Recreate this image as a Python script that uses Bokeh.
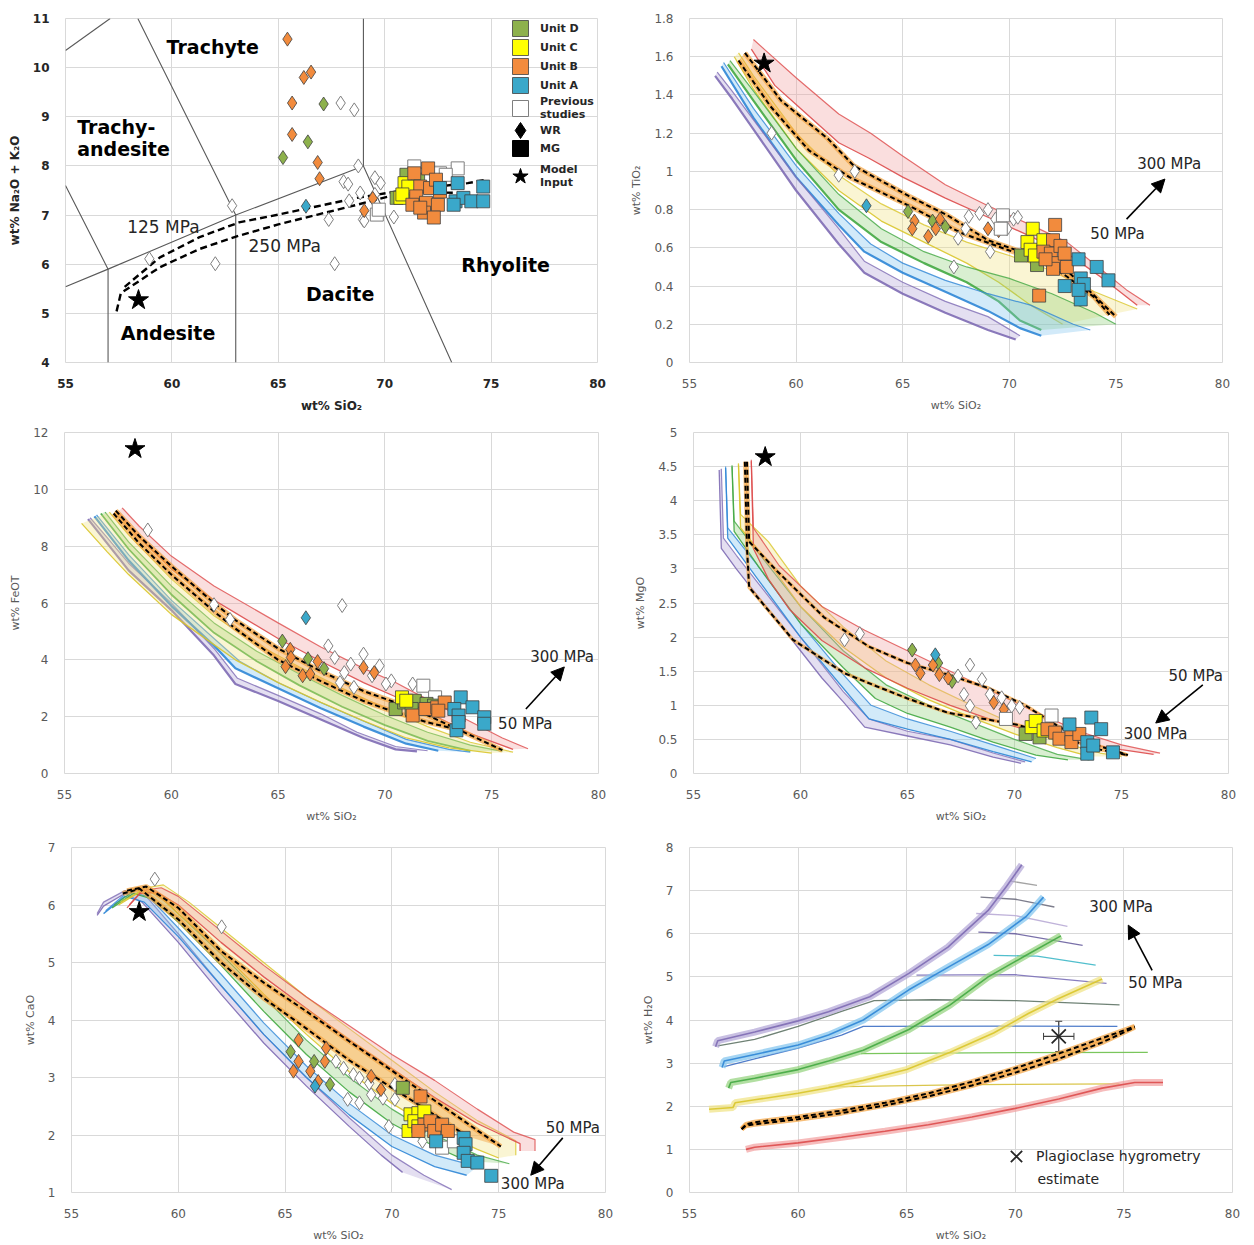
from bokeh.plotting import figure
from bokeh.layouts import column, row
from bokeh.models import (ColumnDataSource, Label, Arrow, NormalHead, Legend, LegendItem,
                          FixedTicker, CustomJSTickFormatter, Range1d, Whisker, TeeHead)
from bokeh.embed import file_html
from bokeh.resources import INLINE

FONT = "DejaVu Sans"
NAN = float("nan")

# ---------------------------------------------------------------- sample data
# Panel 1: TAS (SiO2 vs Na2O+K2O)
TAS_WR_P = [(67.93, 9.28), (68.57, 9.14), (68.76, 8.0), (62.83, 7.19), (58.94, 6.11), (62.04, 6.01),
            (67.65, 6.01), (67.37, 6.91), (68.98, 6.91), (68.07, 7.68), (68.28, 7.63), (68.85, 7.45),
            (69.54, 7.76), (69.81, 7.65), (70.43, 6.96), (68.33, 7.29), (69.54, 7.42), (69.04, 6.88)]
TAS_WR_D = [(67.13, 9.26), (66.39, 8.49), (65.22, 8.17)]
TAS_WR_B = [(65.43, 10.58), (66.2, 9.8), (66.54, 9.91), (65.65, 9.28), (65.65, 8.64), (66.85, 8.07),
            (66.94, 7.74), (69.44, 7.34), (69.04, 7.09)]
TAS_WR_A = [(66.3, 7.18)]
TAS_MG_P = [(71.39, 7.99), (73.43, 7.95), (72.6, 7.85), (72.87, 7.82), (69.63, 7.01), (69.72, 7.11), (71.48, 7.82)]
TAS_MG_D = [(70.56, 7.35), (71.02, 7.82), (71.57, 7.72), (71.39, 7.28)]
TAS_MG_C = [(70.74, 7.35), (70.93, 7.65), (71.11, 7.58), (70.83, 7.42)]
TAS_MG_B = [(71.39, 7.85), (72.04, 7.95), (71.67, 7.58), (72.13, 7.55), (71.48, 7.38), (71.94, 7.25),
            (71.3, 7.21), (72.5, 7.21), (71.85, 7.05), (72.31, 6.95), (72.41, 7.72), (72.6, 7.48), (71.67, 7.15)]
TAS_MG_A = [(72.6, 7.55), (73.43, 7.65), (74.63, 7.58), (73.33, 7.28), (73.7, 7.35), (74.07, 7.28),
            (74.63, 7.28), (73.24, 7.21)]
TAS_STAR = [(58.43, 5.27)]
TAS_MODEL_125 = [(57.78, 5.54), (59.44, 6.14), (61.3, 6.55), (63.15, 6.85), (65.0, 7.01), (66.85, 7.18),
                 (68.7, 7.35), (70.56, 7.48), (72.5, 7.58), (73.9, 7.65), (74.8, 7.72)]
TAS_MODEL_250 = [(57.4, 5.04), (57.6, 5.41), (59.44, 5.94), (61.3, 6.31), (63.15, 6.58), (65.0, 6.81),
                 (66.85, 7.01), (68.7, 7.21), (70.2, 7.38), (72.0, 7.47), (73.4, 7.45)]
TAS_FIELD_LINES = [
    [(55.0, 5.54), (57.0, 5.9), (63.0, 7.0), (69.0, 8.0), (73.15, 4.0)],
    [(57.0, 4.0), (57.0, 5.9), (55.0, 7.6)],
    [(63.0, 4.0), (63.0, 7.0), (58.4, 11.0)],
    [(69.0, 8.0), (69.0, 11.0)],
    [(55.0, 10.35), (57.1, 11.0)],
]

# Panel 2: TiO2
TIO2_WR_P = [(58.85, 1.2), (62.0, 0.98), (62.75, 1.0), (67.4, 0.5), (67.6, 0.65), (67.95, 0.7), (68.1, 0.765),
             (68.6, 0.78), (69.0, 0.8), (69.1, 0.58), (69.35, 0.75), (69.7, 0.73), (69.9, 0.7), (70.2, 0.75), (70.4, 0.76)]
TIO2_WR_D = [(65.25, 0.79), (66.4, 0.74), (67.0, 0.71)]
TIO2_WR_B = [(65.55, 0.74), (65.45, 0.7), (66.2, 0.66), (66.75, 0.75), (66.55, 0.7), (69.0, 0.7), (69.5, 0.69)]
TIO2_WR_A = [(63.3, 0.82)]
TIO2_MG_P = [(69.7, 0.77), (69.6, 0.7)]
TIO2_MG_D = [(70.55, 0.56), (71.3, 0.51)]
TIO2_MG_C = [(71.1, 0.7), (70.85, 0.63), (71.0, 0.59), (71.2, 0.56), (71.6, 0.64)]
TIO2_MG_B = [(72.15, 0.72), (72.05, 0.64), (71.6, 0.58), (71.95, 0.57), (72.4, 0.61), (72.15, 0.52), (72.7, 0.5),
             (72.05, 0.49), (71.4, 0.35), (72.6, 0.57), (71.7, 0.54)]
TIO2_MG_A = [(73.25, 0.54), (72.6, 0.4), (73.35, 0.44), (73.5, 0.41), (74.1, 0.5), (74.65, 0.43), (73.35, 0.33), (73.25, 0.38)]
TIO2_STAR = [(58.5, 1.565)]
TIO2_PURPLE_HI = [(56.3, 1.52), (57, 1.42), (58, 1.27), (60, 0.97), (62, 0.7), (63.2, 0.53), (65, 0.42), (67, 0.32), (69, 0.24), (70.5, 0.14)]
TIO2_PURPLE_LO = [(56.2, 1.5), (57, 1.38), (58, 1.22), (60, 0.9), (62, 0.62), (63.2, 0.47), (65, 0.36), (67, 0.26), (69, 0.17), (70.3, 0.12)]
TIO2_BLUE_HI = [(56.6, 1.57), (58, 1.33), (60, 1.03), (62, 0.78), (63.5, 0.62), (65, 0.52), (67, 0.43), (69, 0.36), (71, 0.3), (73, 0.2), (73.8, 0.17)]
TIO2_BLUE_LO = [(56.5, 1.55), (58, 1.28), (60, 0.97), (62, 0.72), (63.2, 0.58), (65, 0.47), (67, 0.37), (69, 0.27), (70.5, 0.18), (71.5, 0.14)]
TIO2_GREEN_HI = [(56.9, 1.58), (58, 1.42), (60, 1.12), (62, 0.88), (64, 0.7), (66, 0.58), (68, 0.5), (70, 0.44), (72, 0.36), (74, 0.26), (75, 0.2)]
TIO2_GREEN_LO = [(56.8, 1.56), (58, 1.37), (60, 1.06), (62, 0.8), (64, 0.63), (66, 0.52), (68, 0.42), (69.5, 0.32), (70.5, 0.22), (71.5, 0.17)]
TIO2_YELLOW_HI = [(57.3, 1.62), (58, 1.5), (60, 1.2), (62, 0.98), (64, 0.83), (66, 0.72), (68, 0.63), (70, 0.56), (72, 0.48), (74, 0.37), (76, 0.28)]
TIO2_YELLOW_LO = [(57.1, 1.6), (58, 1.43), (60, 1.12), (62, 0.9), (64, 0.74), (66, 0.63), (68, 0.52), (69.5, 0.42), (71, 0.3), (72.5, 0.2)]
TIO2_ORANGE_A = [(57.6, 1.62), (59.3, 1.37), (61.5, 1.17), (62.7, 1.03), (65.3, 0.87), (67.1, 0.77), (69, 0.64), (70.8, 0.57), (72.5, 0.5), (73.8, 0.37), (75.0, 0.24)]
TIO2_ORANGE_B = [(57.3, 1.58), (58.8, 1.34), (60.6, 1.11), (62.5, 0.97), (65.3, 0.82), (67.7, 0.68), (69.9, 0.59), (71.5, 0.53), (72.7, 0.45), (74.0, 0.34), (74.7, 0.25)]
TIO2_RED_HI = [(58.0, 1.69), (58.5, 1.64), (60, 1.49), (62, 1.3), (63.5, 1.2), (65, 1.08), (67, 0.93), (69, 0.82), (71, 0.72), (72.7, 0.63), (74.5, 0.47), (75.5, 0.38), (76.6, 0.3)]
TIO2_RED_LO = [(57.9, 1.64), (59, 1.45), (60, 1.35), (62, 1.15), (63.4, 1.07), (65, 0.97), (67, 0.86), (69, 0.76), (71, 0.66), (73, 0.55), (74.5, 0.43), (76, 0.3)]

# Panel 3: FeOT
FEO_WR_P = [(58.9, 8.57), (62.0, 5.94), (62.75, 5.42), (68.0, 5.91), (67.35, 4.49), (67.65, 4.08), (68.4, 3.85),
            (68.1, 3.55), (69.0, 4.2), (69.75, 3.79), (68.55, 3.03), (67.9, 3.2), (70.3, 3.26), (70.05, 3.15),
            (71.3, 3.15), (69.4, 3.44)]
FEO_WR_D = [(65.2, 4.66), (66.4, 4.04), (67.15, 3.69)]
FEO_WR_B = [(65.57, 4.37), (65.6, 4.08), (65.35, 3.76), (66.15, 3.44), (66.5, 3.5), (66.85, 3.94), (69.0, 3.73), (69.5, 3.55)]
FEO_WR_A = [(66.3, 5.48)]
FEO_MG_P = [(71.8, 3.09), (72.35, 2.68)]
FEO_MG_D = [(70.5, 2.27), (70.9, 2.5), (71.4, 2.56), (71.95, 2.45), (72.3, 2.39), (71.25, 2.27)]
FEO_MG_C = [(70.8, 2.68), (71.0, 2.56)]
FEO_MG_B = [(71.3, 2.04), (71.9, 2.27), (72.45, 2.33), (72.8, 2.5), (72.5, 2.21)]
FEO_MG_A = [(73.55, 2.68), (74.1, 2.33), (73.25, 2.27), (73.45, 2.04), (73.35, 1.52), (74.65, 1.98), (74.65, 1.75), (73.45, 1.81)]
FEO_STAR = [(58.3, 11.42)]
FEO_PURPLE_HI = [(56.2, 9.0), (57, 8.3), (58, 7.4), (60, 6.0), (62, 4.4), (63.1, 3.35), (65, 2.75), (67, 2.1), (68.7, 1.45), (70.5, 0.95), (72, 0.8)]
FEO_PURPLE_LO = [(56.1, 8.95), (57, 8.1), (58, 7.15), (60, 5.75), (62, 4.15), (63, 3.15), (65, 2.55), (67, 1.9), (69, 1.25), (70.5, 0.85), (71.5, 0.78)]
FEO_BLUE_HI = [(56.5, 9.1), (58, 7.7), (60, 6.1), (62, 4.75), (63.2, 3.95), (65, 3.2), (67, 2.5), (69, 1.85), (71, 1.2), (73, 0.85), (74, 0.75)]
FEO_BLUE_LO = [(56.4, 9.05), (58, 7.5), (60, 5.9), (62, 4.5), (63, 3.7), (65, 3.0), (67, 2.3), (69, 1.65), (71, 1.05), (72.5, 0.8)]
FEO_GREEN_HI = [(56.9, 9.2), (58, 8.15), (60, 6.6), (62, 5.3), (64, 4.3), (66, 3.5), (68, 2.75), (70, 2.05), (72, 1.45), (74, 1.0), (75.5, 0.78)]
FEO_GREEN_LO = [(56.7, 9.15), (58, 7.9), (60, 6.3), (62, 4.95), (64, 3.95), (66, 3.1), (68, 2.35), (70, 1.7), (72, 1.15), (74, 0.8)]
FEO_YELLOW_HI = [(57.1, 9.2), (58, 8.4), (60, 6.85), (62, 5.55), (64, 4.55), (66, 3.75), (68, 3.0), (70, 2.3), (72, 1.65), (74, 1.1), (76, 0.75)]
FEO_YELLOW_LO = [(55.8, 8.8), (57, 7.8), (58, 7.0), (60, 5.6), (61.5, 4.8), (63, 4.0), (65, 3.2), (67, 2.5), (69, 1.85), (71, 1.25), (73, 0.9), (75, 0.72)]
FEO_ORANGE_A = [(57.4, 9.25), (58.5, 8.35), (60, 7.3), (62, 6.0), (63, 5.4), (65, 4.4), (67, 3.6), (69, 2.9), (70.5, 2.5), (72, 2.05), (74, 1.35), (75.5, 0.82)]
FEO_ORANGE_B = [(57.3, 9.15), (58.5, 8.1), (60, 7.0), (62, 5.7), (63, 5.1), (65, 4.0), (67, 3.25), (69, 2.55), (70.5, 2.15), (72, 1.8), (73.1, 1.6)]
FEO_RED_HI = [(57.7, 9.35), (58.5, 8.7), (60, 7.65), (62, 6.6), (65, 5.3), (67, 4.45), (69, 3.7), (70.5, 3.2), (72, 2.6), (74.2, 1.75), (75.5, 1.25), (76.7, 0.87)]
FEO_RED_LO = [(57.5, 9.2), (58.5, 8.3), (60, 7.2), (62, 6.1), (65, 4.75), (67, 3.95), (69, 3.2), (70.5, 2.7), (72, 2.15), (74, 1.4), (76, 0.85)]

# Panel 4: MgO
MGO_WR_P = [(62.06, 1.96), (62.77, 2.05), (67.36, 1.43), (67.92, 1.59), (68.48, 1.38), (67.64, 1.16), (67.92, 0.99),
            (68.85, 1.16), (69.4, 1.11), (69.87, 0.99), (70.24, 0.97), (68.2, 0.75)]
MGO_WR_D = [(65.22, 1.81), (66.43, 1.62), (67.08, 1.35)]
MGO_WR_B = [(65.37, 1.59), (65.6, 1.47), (66.19, 1.59), (66.49, 1.45), (66.9, 1.4), (69.03, 1.04), (69.5, 0.94)]
MGO_WR_A = [(66.3, 1.74)]
MGO_MG_P = [(71.73, 0.85), (69.6, 0.8)]
MGO_MG_D = [(70.52, 0.58), (71.17, 0.53)]
MGO_MG_C = [(70.8, 0.68), (70.99, 0.77), (71.36, 0.63)]
MGO_MG_B = [(71.54, 0.65), (71.9, 0.6), (72.1, 0.51), (72.66, 0.56), (72.66, 0.46), (73.03, 0.58)]
MGO_MG_A = [(72.57, 0.72), (73.59, 0.82), (74.05, 0.65), (73.4, 0.46), (73.4, 0.29), (73.68, 0.41), (74.6, 0.31)]
MGO_STAR = [(58.35, 4.64)]
MGO_PURPLE_HI = [(56.3, 4.47), (56.4, 3.45), (57, 3.2), (58, 2.8), (59, 2.4), (60, 2.0), (61, 1.6), (62, 1.2), (63.2, 0.8), (65, 0.62), (67, 0.5), (69, 0.3), (70.5, 0.17)]
MGO_PURPLE_LO = [(56.2, 4.45), (56.3, 3.3), (57, 3.0), (58, 2.6), (59, 2.2), (60, 1.8), (61, 1.4), (62, 1.05), (63, 0.68), (65, 0.55), (67, 0.42), (69, 0.24), (70.3, 0.15)]
MGO_BLUE_HI = [(56.5, 4.5), (56.6, 3.6), (58, 3.05), (60, 2.2), (62, 1.45), (63.3, 1.0), (65, 0.8), (67, 0.62), (69, 0.42), (71, 0.22)]
MGO_BLUE_LO = [(56.5, 4.48), (56.6, 3.45), (58, 2.85), (60, 2.0), (62, 1.25), (63.2, 0.8), (65, 0.65), (67, 0.5), (69, 0.32), (70.8, 0.17)]
MGO_GREEN_HI = [(56.8, 4.52), (56.9, 3.7), (58, 3.25), (60, 2.45), (62, 1.8), (64, 1.3), (66, 1.0), (68, 0.75), (70, 0.5), (72, 0.28), (73.5, 0.2)]
MGO_GREEN_LO = [(56.8, 4.5), (56.9, 3.55), (58, 3.05), (60, 2.2), (62, 1.55), (63.5, 1.1), (65, 0.88), (67, 0.68), (69, 0.46), (71, 0.27), (72.5, 0.2)]
MGO_YELLOW_HI = [(57.1, 4.55), (57.2, 3.8), (58.5, 3.4), (60, 2.75), (62, 2.15), (64, 1.65), (66, 1.3), (68, 1.0), (70, 0.72), (72, 0.47), (74, 0.3), (75, 0.25)]
MGO_YELLOW_LO = [(57.1, 4.53), (57.2, 3.6), (58.5, 3.1), (60, 2.45), (62, 1.85), (64, 1.4), (66, 1.08), (68, 0.82), (70, 0.58), (72, 0.38), (73.5, 0.25)]
MGO_ORANGE_A = [(57.5, 4.57), (57.6, 3.4), (58.9, 2.97), (61.1, 2.29), (63.2, 1.86), (65, 1.62), (66.9, 1.45), (68.8, 1.25), (70.5, 1.0), (72, 0.7), (73.5, 0.45), (75.3, 0.27)]
MGO_ORANGE_B = [(57.4, 4.57), (57.5, 3.3), (57.6, 2.73), (59.65, 1.96), (62.06, 1.47), (63.55, 1.28), (65, 1.1), (66.9, 0.89), (70.06, 0.72), (72.5, 0.5), (74, 0.35), (75.26, 0.27)]
MGO_RED_HI = [(57.7, 4.6), (57.8, 3.6), (59, 3.05), (61, 2.45), (63, 2.1), (65, 1.8), (67, 1.5), (69, 1.2), (71, 0.9), (73, 0.62), (75, 0.42), (76.8, 0.3)]
MGO_RED_LO = [(57.7, 4.58), (57.8, 3.3), (58.5, 2.85), (59.5, 2.4), (61, 1.95), (63, 1.55), (65, 1.25), (67, 1.0), (69, 0.78), (71, 0.6), (73, 0.45), (75, 0.35), (76.5, 0.28)]

# Panel 5: CaO
CAO_WR_P = [(58.9, 6.45), (62.03, 5.62), (67.38, 3.28), (67.74, 3.16), (68.2, 3.05), (68.48, 2.99), (67.93, 2.62),
            (68.48, 2.56), (69.03, 2.7), (69.49, 2.79), (69.58, 2.64), (70.14, 2.62), (70.14, 2.88), (69.86, 2.15),
            (71.43, 1.89), (68.94, 2.9)]
CAO_WR_D = [(65.26, 3.45), (66.36, 3.28), (67.1, 2.88)]
CAO_WR_B = [(65.63, 3.65), (65.63, 3.28), (65.39, 3.11), (66.18, 3.11), (66.92, 3.51), (66.86, 3.28), (66.55, 2.93), (69.03, 3.02), (69.49, 2.79)]
CAO_WR_A = [(66.4, 2.85)]
CAO_MG_P = [(72.35, 1.78), (72.9, 1.89)]
CAO_MG_D = [(70.51, 2.82)]
CAO_MG_C = [(70.78, 2.07), (70.87, 2.36), (71.24, 2.38), (71.05, 2.24), (71.52, 2.41), (71.24, 2.15)]
CAO_MG_B = [(71.34, 2.67), (71.52, 2.18), (71.8, 2.24), (71.98, 2.07), (72.35, 2.18), (72.62, 2.07), (71.24, 2.07)]
CAO_MG_A = [(72.07, 1.89), (73.36, 1.95), (73.45, 1.84), (73.36, 1.69), (73.55, 1.55), (74.0, 1.52), (74.65, 1.29)]
CAO_STAR = [(58.17, 5.88)]
CAO_PURPLE_HI = [(56.2, 5.85), (56.5, 6.05), (57.5, 6.25), (58.5, 6.15), (60, 5.5), (62, 4.6), (64, 3.75), (66, 3.0), (68, 2.3), (70, 1.65), (71.5, 1.3), (72.8, 1.05)]
CAO_PURPLE_LO = [(56.2, 5.82), (56.5, 5.98), (57.5, 6.2), (58.3, 6.05), (60, 5.35), (62, 4.45), (64, 3.6), (66, 2.85), (68, 2.15), (69.5, 1.65), (70.5, 1.35)]
CAO_BLUE_HI = [(56.6, 5.9), (57.6, 6.22), (58.6, 6.15), (60, 5.6), (62, 4.8), (64, 3.95), (66, 3.2), (68, 2.55), (70, 2.0), (72, 1.65), (74, 1.45)]
CAO_BLUE_LO = [(56.5, 5.85), (57.5, 6.15), (58.4, 6.05), (60, 5.45), (62, 4.6), (64, 3.75), (66, 3.0), (68, 2.35), (70, 1.8), (72, 1.45), (73.5, 1.3)]
CAO_GREEN_HI = [(57.0, 6.0), (58, 6.27), (59, 6.2), (60, 5.85), (62, 5.15), (64, 4.4), (66, 3.65), (68, 3.0), (70, 2.45), (72, 2.0), (74, 1.65), (75.5, 1.5)]
CAO_GREEN_LO = [(56.9, 5.95), (57.9, 6.2), (58.8, 6.1), (60, 5.7), (62, 4.95), (64, 4.15), (66, 3.4), (68, 2.75), (70, 2.2), (72, 1.8), (73.5, 1.55)]
CAO_YELLOW_HI = [(57.3, 6.05), (58.5, 6.3), (59.3, 6.35), (60.5, 6.05), (62, 5.6), (64, 5.0), (66, 4.4), (68, 3.85), (70, 3.3), (72, 2.75), (74, 2.25), (75.8, 1.9), (75.8, 1.65)]
CAO_YELLOW_LO = [(57.2, 6.0), (58.3, 6.25), (59, 6.2), (60, 5.85), (62, 5.2), (64, 4.45), (66, 3.75), (68, 3.1), (70, 2.55), (72, 2.1), (74, 1.75), (75, 1.6)]
CAO_ORANGE_A = [(57.6, 6.25), (58.5, 6.32), (60, 5.95), (62, 5.2), (64, 4.65), (66, 4.15), (68, 3.63), (70, 3.12), (72, 2.6), (74, 2.08), (75.1, 1.8)]
CAO_ORANGE_B = [(57.4, 6.2), (58.2, 6.28), (60, 5.75), (62, 5.0), (64, 4.38), (66, 3.85), (68, 3.3), (70, 2.82), (72, 2.35), (73.5, 1.98)]
CAO_RED_HI = [(57.7, 6.0), (58.3, 6.25), (59.2, 6.3), (60, 6.15), (62, 5.55), (64, 4.95), (66, 4.4), (68, 3.9), (70, 3.4), (72, 2.95), (74, 2.45), (75.7, 2.05), (76.7, 1.92), (76.7, 1.72)]
CAO_RED_LO = [(57.6, 5.95), (58.2, 6.2), (59, 6.22), (60, 6.0), (62, 5.35), (64, 4.75), (66, 4.2), (68, 3.65), (70, 3.15), (72, 2.65), (74, 2.2), (76, 1.85), (76, 1.72)]

# Panel 6: H2O
H2O_PURPLE = [(56.2, 3.38), (56.3, 3.52), (58, 3.72), (60, 3.98), (61.4, 4.19), (63.3, 4.54), (65.1, 5.08), (66.9, 5.69), (68.75, 6.54), (69.6, 7.1), (70.3, 7.6)]
H2O_BLUE = [(56.5, 2.9), (56.6, 3.05), (58, 3.2), (60, 3.42), (61.4, 3.65), (63, 4.0), (65.1, 4.7), (67, 5.25), (68.75, 5.75), (70.5, 6.4), (71.3, 6.85)]
H2O_GREEN = [(56.8, 2.42), (56.9, 2.55), (58, 2.65), (60, 2.85), (61.4, 3.05), (63, 3.3), (65.1, 3.78), (67, 4.35), (68.75, 5.0), (70.5, 5.5), (72.1, 5.95)]
H2O_YELLOW = [(55.9, 1.93), (57.0, 1.97), (57.1, 2.08), (58, 2.15), (60, 2.3), (61.4, 2.43), (63, 2.6), (65, 2.85), (67, 3.25), (69, 3.7), (70.6, 4.15), (72, 4.5), (74, 4.95)]
H2O_ORANGE_A = [(57.4, 1.47), (57.6, 1.58), (58, 1.63), (60, 1.75), (62, 1.9), (64, 2.08), (66, 2.3), (68, 2.57), (70, 2.88), (72, 3.22), (74, 3.58), (75.5, 3.85)]
H2O_ORANGE_B = [(57.4, 1.47), (57.6, 1.55), (58, 1.58), (60, 1.7), (62, 1.84), (64, 2.02), (66, 2.23), (68, 2.48), (70, 2.78), (72, 3.1), (74, 3.48), (75.5, 3.83)]
H2O_RED = [(57.6, 1.0), (58, 1.05), (60, 1.15), (62, 1.28), (64, 1.42), (66, 1.57), (68, 1.75), (70, 1.95), (72, 2.17), (74, 2.42), (75.5, 2.55), (76.8, 2.55)]
H2O_PLATEAUS = [
    ([(69.8, 7.22), (71.0, 7.12)], "#9a9a9a"),
    ([(68.4, 6.85), (70.0, 6.8), (71.8, 6.62)], "#6f6f80"),
    ([(68.2, 6.47), (70.0, 6.42), (72.4, 6.17)], "#b9abd6"),
    ([(68.3, 6.04), (70.0, 6.0), (73.1, 5.73)], "#6a60a0"),
    ([(69.0, 5.5), (71.0, 5.48), (73.7, 5.27)], "#3fb8c8"),
    ([(65.45, 5.04), (70.0, 5.05), (74.2, 4.85)], "#7b70b8"),
    ([(56.3, 3.4), (58, 3.55), (60, 3.85), (62, 4.2), (63.5, 4.45), (66.2, 4.47), (70, 4.45), (74.8, 4.35)], "#5f7466"),
    ([(56.6, 2.92), (58, 3.1), (60, 3.35), (62, 3.65), (63.0, 3.85), (70, 3.86), (74.7, 3.85)], "#3d6fc4"),
    ([(62.9, 3.22), (68.0, 3.24), (76.1, 3.25)], "#6cc04a"),
    ([(61.4, 2.45), (68.0, 2.5), (74.8, 2.52)], "#d6c03a"),
]
HYG_X = [72.0]
HYG_Y = [3.62]
HYG_XERR = [0.7]
HYG_YERR = [0.35]

# ---------------------------------------------------------------- styles
UNIT_FILL = {"P": "#ffffff", "D": "#8db14c", "C": "#ffff00", "B": "#f28b3d", "A": "#3aa8ca"}
PSTYLE = {"purple": ("#7e6cb4", "#b1a4d6"), "blue": ("#2f86d6", "#7fc3ee"),
          "green": ("#43a843", "#92d27a"), "yellow": ("#d9c52b", "#f0e381"),
          "red": ("#dd4b4b", "#f2a0a0")}
ORANGE = "#f3a23e"


def xs_of(pts):
    return [a for a, _ in pts]


def ys_of(pts):
    return [b for _, b in pts]


def make_fig(yr, yticks, ylabel, borders, bold=False):
    l, r, t, b = borders
    p = figure(width=627, height=415, x_range=Range1d(55, 80), y_range=Range1d(*yr),
               output_backend="svg", toolbar_location=None,
               min_border_left=l, min_border_right=r, min_border_top=t, min_border_bottom=b)
    p.xaxis.ticker = FixedTicker(ticks=[55, 60, 65, 70, 75, 80])
    p.yaxis.ticker = FixedTicker(ticks=yticks)
    p.yaxis.formatter = CustomJSTickFormatter(code="return String(Math.round(tick*10)/10);")
    p.xaxis.axis_label = "wt% SiO\u2082"
    p.yaxis.axis_label = ylabel
    for ax in (p.xaxis[0], p.yaxis[0]):
        ax.axis_line_color = None
        ax.major_tick_line_color = None
        ax.minor_tick_line_color = None
        ax.major_label_text_font = FONT
        ax.major_label_text_font_size = "12px"
        ax.major_label_text_color = "#262626" if bold else "#595959"
        ax.major_label_text_font_style = "bold" if bold else "normal"
        ax.axis_label_text_font = FONT
        ax.axis_label_text_font_size = "12px" if bold else "11px"
        ax.axis_label_text_font_style = "bold" if bold else "normal"
        ax.axis_label_text_color = "#262626" if bold else "#595959"
        ax.major_label_standoff = 10
        ax.axis_label_standoff = 8
    p.xgrid.grid_line_color = "#d9d9d9"
    p.ygrid.grid_line_color = "#d9d9d9"
    p.outline_line_color = "#d9d9d9"
    p.background_fill_color = "white"
    p.border_fill_color = "white"
    return p


def band(p, hi, lo, key, lw=1.3):
    edge, fill = PSTYLE[key]
    p.patch(xs_of(hi) + xs_of(lo)[::-1], ys_of(hi) + ys_of(lo)[::-1],
            fill_color=fill, fill_alpha=0.35, line_color=None)
    p.line(xs_of(hi), ys_of(hi), line_color=edge, line_width=1.2, line_alpha=0.8)
    p.line(xs_of(lo), ys_of(lo), line_color=edge, line_width=lw, line_alpha=0.9)


def dashed_band(p, a, b, fill=True, under=5):
    if fill:
        p.patch(xs_of(a) + xs_of(b)[::-1], ys_of(a) + ys_of(b)[::-1],
                fill_color=ORANGE, fill_alpha=0.45, line_color=None)
    for c in (a, b):
        p.line(xs_of(c), ys_of(c), line_color=ORANGE, line_width=under, line_alpha=0.7)
    for c in (a, b):
        p.line(xs_of(c), ys_of(c), line_color="black", line_width=2, line_dash="5 3")


def samples(p, wr, mg, star):
    out = {}
    for u in ["P", "D", "B", "A"]:
        d = wr.get(u)
        if d:
            out[("wr", u)] = p.scatter(xs_of(d), ys_of(d), marker="diamond", size=14,
                                       fill_color=UNIT_FILL[u],
                                       line_color="#7f7f7f" if u == "P" else "#404040",
                                       line_width=1.0 if u == "P" else 0.8)
    for u in ["P", "D", "C", "B", "A"]:
        d = mg.get(u)
        if d:
            out[("mg", u)] = p.scatter(xs_of(d), ys_of(d), marker="square", size=13,
                                       fill_color=UNIT_FILL[u],
                                       line_color="#7f7f7f" if u == "P" else "#404040",
                                       line_width=1.0 if u == "P" else 0.8)
    out["star"] = p.scatter(xs_of(star), ys_of(star), marker="star", size=21,
                            fill_color="black", line_color="black")
    return out


def label(p, x, y, text, size="15px", bold=False, color="#262626"):
    p.add_layout(Label(x=x, y=y, text=text, text_font=FONT, text_font_size=size,
                       text_font_style="bold" if bold else "normal", text_color=color,
                       text_baseline="middle"))


def arrow(p, x0, y0, x1, y1):
    p.add_layout(Arrow(end=NormalHead(size=13, fill_color="black", line_color="black"),
                       x_start=x0, y_start=y0, x_end=x1, y_end=y1,
                       line_color="black", line_width=1.6))


# ---------------------------------------------------------------- panel 1: TAS
p1 = make_fig((4, 11), [4, 5, 6, 7, 8, 9, 10, 11], "wt% Na\u2082O + K\u2082O", (65, 30, 16, 53), bold=True)
for ln in TAS_FIELD_LINES:
    p1.line(xs_of(ln), ys_of(ln), line_color="#595959", line_width=1.1)
for c in (TAS_MODEL_125, TAS_MODEL_250):
    p1.line(xs_of(c), ys_of(c), line_color="black", line_width=2.4, line_dash="7 4")
r1 = samples(p1, {"P": TAS_WR_P, "D": TAS_WR_D, "B": TAS_WR_B, "A": TAS_WR_A},
             {"P": TAS_MG_P, "D": TAS_MG_D, "C": TAS_MG_C, "B": TAS_MG_B, "A": TAS_MG_A}, TAS_STAR)
label(p1, 59.75, 10.43, "Trachyte", "19px", True, "black")
label(p1, 55.55, 8.79, "Trachy-", "19px", True, "black")
label(p1, 55.55, 8.35, "andesite", "19px", True, "black")
label(p1, 66.3, 5.39, "Dacite", "19px", True, "black")
label(p1, 57.6, 4.6, "Andesite", "19px", True, "black")
label(p1, 73.6, 5.98, "Rhyolite", "19px", True, "black")
label(p1, 57.9, 6.75, "125 MPa", "17px", False, "#262626")
label(p1, 63.6, 6.38, "250 MPa", "17px", False, "#262626")
wr_dummy = p1.scatter([NAN], [NAN], marker="diamond", size=12, fill_color="black", line_color="black")
mg_dummy = p1.scatter([NAN], [NAN], marker="square", size=12, fill_color="black", line_color="black")
# legend entries: (label, renderer, row centre in px below the plot frame top)
legend_rows = [
    ("Unit D", r1[("mg", "D")], 12),
    ("Unit C", r1[("mg", "C")], 31),
    ("Unit B", r1[("mg", "B")], 50),
    ("Unit A", r1[("mg", "A")], 69),
    ("Previous\nstudies", r1[("mg", "P")], 92),
    ("WR", wr_dummy, 114),
    ("MG", mg_dummy, 132),
    ("Model\nInput", r1["star"], 160),
]
for text, rend, off in legend_rows:
    p1.add_layout(Legend(items=[LegendItem(label=text, renderers=[rend])],
                         location=(435, 326 - off), glyph_height=40, glyph_width=40,
                         padding=0, margin=0, label_standoff=-4, label_text_font=FONT,
                         label_text_font_size="11px", label_text_font_style="bold",
                         label_text_color="#262626", label_text_line_height=1.0,
                         background_fill_alpha=0, border_line_color=None))

# ---------------------------------------------------------------- panel 2: TiO2
p2 = make_fig((0, 1.8), [0, 0.2, 0.4, 0.6, 0.8, 1.0, 1.2, 1.4, 1.6, 1.8], "wt% TiO\u2082", (62, 32, 18, 51))
band(p2, TIO2_RED_HI, TIO2_RED_LO, "red")
band(p2, TIO2_YELLOW_HI, TIO2_YELLOW_LO, "yellow")
band(p2, TIO2_GREEN_HI, TIO2_GREEN_LO, "green", 2.2)
band(p2, TIO2_BLUE_HI, TIO2_BLUE_LO, "blue", 2.2)
band(p2, TIO2_PURPLE_HI, TIO2_PURPLE_LO, "purple", 2.2)
dashed_band(p2, TIO2_ORANGE_A, TIO2_ORANGE_B)
samples(p2, {"P": TIO2_WR_P, "D": TIO2_WR_D, "B": TIO2_WR_B, "A": TIO2_WR_A},
        {"P": TIO2_MG_P, "D": TIO2_MG_D, "C": TIO2_MG_C, "B": TIO2_MG_B, "A": TIO2_MG_A}, TIO2_STAR)
arrow(p2, 75.5, 0.75, 77.3, 0.96)
label(p2, 76.0, 1.04, "300 MPa")
label(p2, 73.8, 0.67, "50 MPa")

# ---------------------------------------------------------------- panel 3: FeOT
p3 = make_fig((0, 12), [0, 2, 4, 6, 8, 10, 12], "wt% FeOT", (64, 29, 15, 57))
band(p3, FEO_PURPLE_HI, FEO_PURPLE_LO, "purple", 2.2)
band(p3, FEO_BLUE_HI, FEO_BLUE_LO, "blue", 2.2)
band(p3, FEO_GREEN_HI, FEO_GREEN_LO, "green", 1.8)
band(p3, FEO_YELLOW_HI, FEO_YELLOW_LO, "yellow")
band(p3, FEO_RED_HI, FEO_RED_LO, "red")
dashed_band(p3, FEO_ORANGE_A, FEO_ORANGE_B)
samples(p3, {"P": FEO_WR_P, "D": FEO_WR_D, "B": FEO_WR_B, "A": FEO_WR_A},
        {"P": FEO_MG_P, "D": FEO_MG_D, "C": FEO_MG_C, "B": FEO_MG_B, "A": FEO_MG_A}, FEO_STAR)
arrow(p3, 76.6, 2.27, 78.4, 3.75)
label(p3, 76.8, 4.1, "300 MPa")
label(p3, 75.3, 1.75, "50 MPa")

# ---------------------------------------------------------------- panel 4: MgO
p4 = make_fig((0, 5), [0, 0.5, 1, 1.5, 2, 2.5, 3, 3.5, 4, 4.5, 5], "wt% MgO", (66, 26, 17, 54))
band(p4, MGO_PURPLE_HI, MGO_PURPLE_LO, "purple")
band(p4, MGO_BLUE_HI, MGO_BLUE_LO, "blue")
band(p4, MGO_GREEN_HI, MGO_GREEN_LO, "green")
band(p4, MGO_YELLOW_HI, MGO_YELLOW_LO, "yellow")
band(p4, MGO_RED_HI, MGO_RED_LO, "red")
dashed_band(p4, MGO_ORANGE_A, MGO_ORANGE_B, fill=False, under=3.5)
samples(p4, {"P": MGO_WR_P, "D": MGO_WR_D, "B": MGO_WR_B, "A": MGO_WR_A},
        {"P": MGO_MG_P, "D": MGO_MG_D, "C": MGO_MG_C, "B": MGO_MG_B, "A": MGO_MG_A}, MGO_STAR)
arrow(p4, 78.8, 1.3, 76.6, 0.74)
label(p4, 77.2, 1.43, "50 MPa")
label(p4, 75.1, 0.58, "300 MPa")

# ---------------------------------------------------------------- panel 5: CaO
p5 = make_fig((1, 7), [1, 2, 3, 4, 5, 6, 7], "wt% CaO", (71, 22, 15, 53))
band(p5, CAO_PURPLE_HI, CAO_PURPLE_LO, "purple")
band(p5, CAO_BLUE_HI, CAO_BLUE_LO, "blue")
band(p5, CAO_GREEN_HI, CAO_GREEN_LO, "green")
band(p5, CAO_YELLOW_HI, CAO_YELLOW_LO, "yellow")
band(p5, CAO_RED_HI, CAO_RED_LO, "red")
dashed_band(p5, CAO_ORANGE_A, CAO_ORANGE_B)
samples(p5, {"P": CAO_WR_P, "D": CAO_WR_D, "B": CAO_WR_B, "A": CAO_WR_A},
        {"P": CAO_MG_P, "D": CAO_MG_D, "C": CAO_MG_C, "B": CAO_MG_B, "A": CAO_MG_A}, CAO_STAR)
arrow(p5, 78.0, 1.95, 76.5, 1.3)
label(p5, 77.2, 2.12, "50 MPa")
label(p5, 75.1, 1.14, "300 MPa")

# ---------------------------------------------------------------- panel 6: H2O
p6 = make_fig((0, 8), [0, 1, 2, 3, 4, 5, 6, 7, 8], "wt% H\u2082O", (62, 22, 17, 52))
for pts_, col in H2O_PLATEAUS:
    p6.line(xs_of(pts_), ys_of(pts_), line_color=col, line_width=1.3, line_alpha=0.9)
for curve, key in ((H2O_PURPLE, "purple"), (H2O_BLUE, "blue"), (H2O_GREEN, "green"),
                   (H2O_YELLOW, "yellow"), (H2O_RED, "red")):
    edge, fill = PSTYLE[key]
    p6.line(xs_of(curve), ys_of(curve), line_color=fill, line_width=7, line_alpha=0.7)
    p6.line(xs_of(curve), ys_of(curve), line_color=edge, line_width=1.6, line_alpha=0.9)
dashed_band(p6, H2O_ORANGE_A, H2O_ORANGE_B)
hyg = ColumnDataSource(dict(
    x=HYG_X, y=HYG_Y,
    xl=[a - e for a, e in zip(HYG_X, HYG_XERR)], xh=[a + e for a, e in zip(HYG_X, HYG_XERR)],
    yl=[a - e for a, e in zip(HYG_Y, HYG_YERR)], yh=[a + e for a, e in zip(HYG_Y, HYG_YERR)]))
for dim, base, lo, hi in (("width", "y", "xl", "xh"), ("height", "x", "yl", "yh")):
    p6.add_layout(Whisker(source=hyg, dimension=dim, base=base, lower=lo, upper=hi,
                          line_color="#404040", line_width=1.3,
                          lower_head=TeeHead(size=7, line_color="#404040"),
                          upper_head=TeeHead(size=7, line_color="#404040")))
rx = p6.scatter("x", "y", source=hyg, marker="x", size=20, line_color="#262626", line_width=1.8)
arrow(p6, 76.3, 5.15, 75.2, 6.2)
label(p6, 73.4, 6.62, "300 MPa")
label(p6, 75.2, 4.85, "50 MPa")
leg6 = Legend(items=[LegendItem(label="Plagioclase hygrometry", renderers=[rx])],
              location=(307, 16), glyph_height=40, glyph_width=40, padding=0, margin=0,
              label_standoff=0, label_text_font=FONT, label_text_font_size="14px",
              label_text_color="#262626", background_fill_alpha=0, border_line_color=None)
p6.add_layout(leg6)
p6.add_layout(Label(x=348, y=14, x_units="screen", y_units="screen", text="estimate",
                    text_font=FONT, text_font_size="14px", text_color="#262626",
                    text_baseline="middle"))

layout = column(row(p1, p2), row(p3, p4), row(p5, p6))
open("out.html", "w").write(file_html(layout, INLINE))
